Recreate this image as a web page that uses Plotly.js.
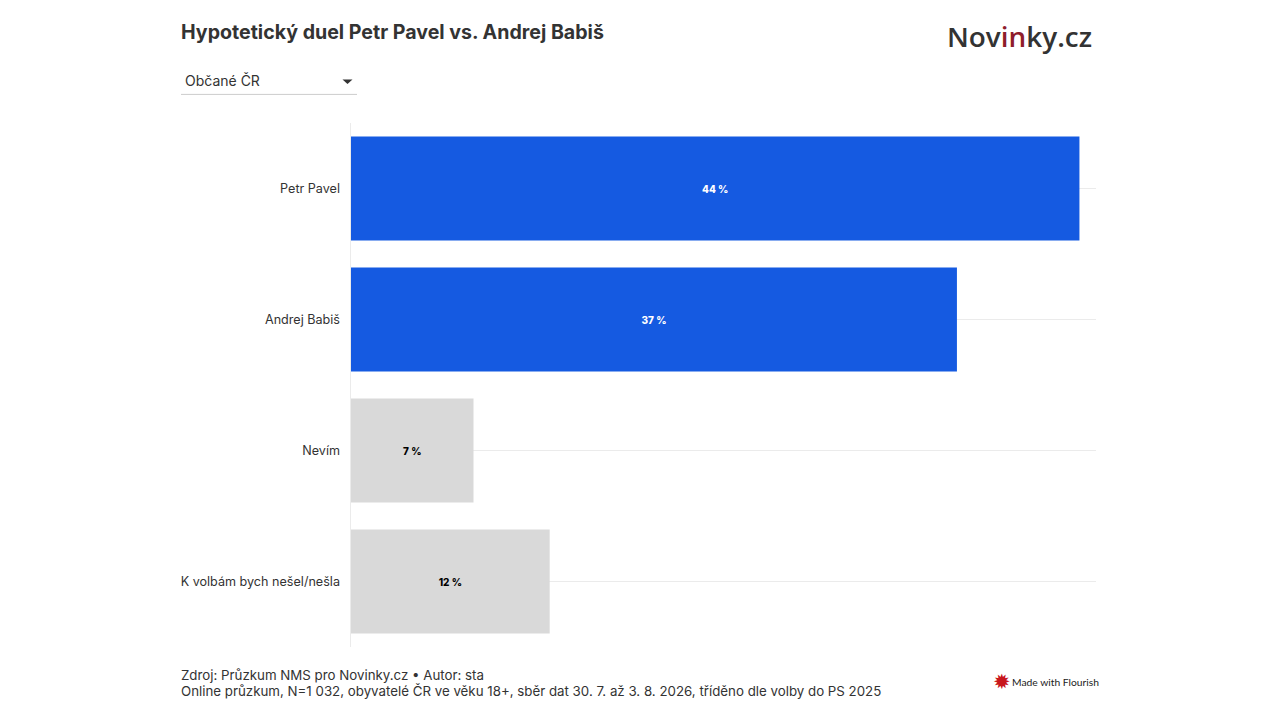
<!DOCTYPE html>
<html lang="cs">
<head>
<meta charset="utf-8">
<script src="https://cdn.plot.ly/plotly-3.0.1.min.js"></script>
<style>html,body{margin:0;padding:0;background:#fff}#c{width:1280px;height:720px}</style>
</head>
<body>
<div id="c"></div>
<script>
const categories = ["Petr Pavel", "Andrej Babiš", "Nevím", "K volbám bych nešel/nešla"];
const values = [44, 36.6, 7.4, 12];
const valueLabels = ["44 %", "37 %", "7 %", "12 %"];
const barColors = ["#155ae1", "#155ae1", "#d9d9d9", "#d9d9d9"];
const labelColors = ["#ffffff", "#ffffff", "#000000", "#000000"];
const titleText = "Hypotetický duel Petr Pavel vs. Andrej Babiš";
const dropdownText = "Občané ČR";
const sourceText = "Zdroj: Průzkum NMS pro Novinky.cz • Autor: sta";
const noteText = "Online průzkum, N=1 032, obyvatelé ČR ve věku 18+, sběr dat 30. 7. až 3. 8. 2026, tříděno dle volby do PS 2025";

const W = 1280, H = 720;
const m = {l: 351, r: 184, t: 122.6, b: 73.4};
const px = x => (x - m.l) / (W - m.l - m.r);
const py = y => 1 - (y - m.t) / (H - m.t - m.b);
const F = "Inter, sans-serif";
const note = (text, x, y, size, color, extra) => Object.assign({
  text, x: px(x), y: py(y), xref: "paper", yref: "paper", xanchor: "left", yanchor: "middle",
  showarrow: false, align: "left", font: {family: F, size, color}
}, extra || {});

const trace = {
  type: "bar", orientation: "h", x: values, y: categories,
  marker: {color: barColors, line: {width: 0}},
  text: valueLabels, textposition: "inside", insidetextanchor: "middle",
  textangle: 0, constraintext: "none",
  textfont: {family: F, size: 10, color: labelColors, weight: 800},
  hoverinfo: "skip", cliponaxis: false
};

const layout = {
  width: W, height: H, margin: m, autosize: false, showlegend: false,
  paper_bgcolor: "#fff", plot_bgcolor: "#fff", bargap: 0.205,
  font: {family: F, color: "#333"},
  xaxis: {range: [0, 45], showgrid: false, zeroline: false, showticklabels: false, ticks: "", showline: false, fixedrange: true},
  yaxis: {
    type: "category", autorange: false, range: [3.5, -0.5],
    showgrid: true, gridcolor: "#ebebeb", gridwidth: 1, zeroline: false,
    showline: true, linecolor: "#ebebeb", linewidth: 1,
    ticks: "outside", ticklen: 7.5, tickcolor: "rgba(0,0,0,0)",
    tickfont: {family: F, size: 12.6, color: "#333"}, fixedrange: true
  },
  annotations: [
    note("<b>" + titleText + "</b>", 179, 31.5, 19.6, "#333"),
    note(dropdownText, 183, 80, 14, "#333"),
    note('Nov<span style="color:#8f1d2c">in</span>ky.cz', 945, 36, 27.9, "#333", {font: {family: "'Open Sans', sans-serif", size: 27.9, color: "#333", weight: 600}}),
    note(sourceText, 179, 675, 13.3, "#333"),
    note(noteText, 179, 691, 13.3, "#333"),
    note("✹", 991, 681.5, 21, "#c8161d", {font: {family: "DejaVu Sans", size: 21, color: "#c8161d"}}),
    note("Made with Flourish", 1010, 682, 10.3, "#222", {font: {family: "Lato, sans-serif", size: 10.3, color: "#222"}})
  ],
  shapes: [
    {type: "line", xref: "paper", yref: "paper", x0: px(181), x1: px(357), y0: py(94), y1: py(94), line: {color: "#cccccc", width: 1}},
    {type: "path", xref: "paper", yref: "paper", fillcolor: "#333", line: {width: 0},
     path: `M ${px(342.5)} ${py(79)} L ${px(352.5)} ${py(79)} L ${px(347.5)} ${py(83.5)} Z`}
  ]
};

Plotly.newPlot("c", [trace], layout, {displayModeBar: false, staticPlot: true});
</script>
</body>
</html>
